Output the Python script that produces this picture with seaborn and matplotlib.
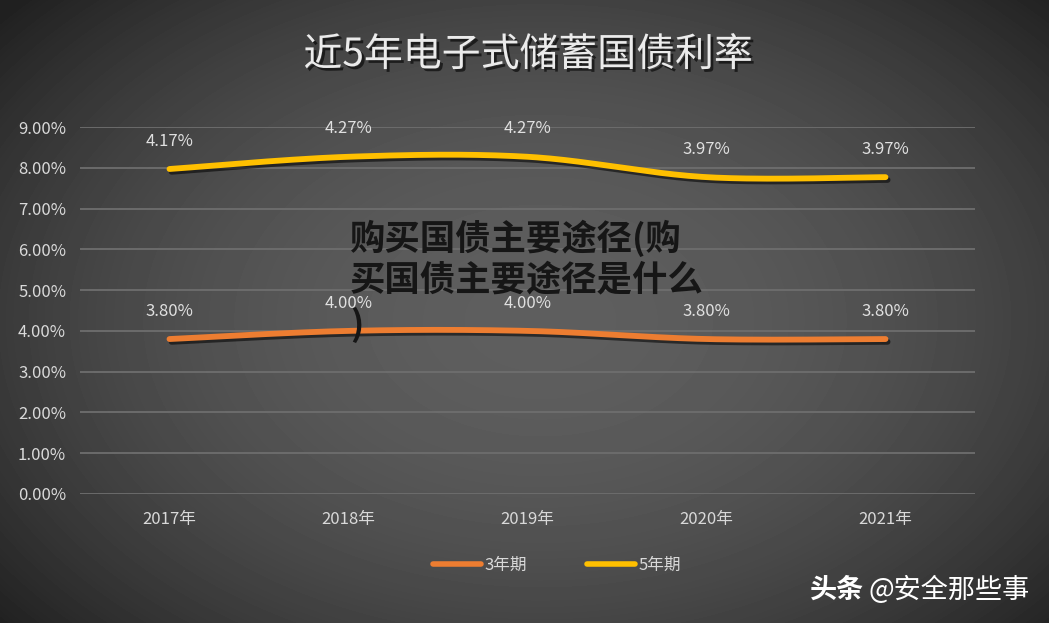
import numpy as np
import pandas as pd
import matplotlib
matplotlib.use("Agg")
import matplotlib.pyplot as plt
import matplotlib.patheffects as pe
from matplotlib.lines import Line2D
import seaborn as sns

# ---- data ----
years = ["2017年", "2018年", "2019年", "2020年", "2021年"]
rate_3y = [3.80, 4.00, 4.00, 3.80, 3.80]
rate_5y = [4.17, 4.27, 4.27, 3.97, 3.97]
series_names = ["3年期", "5年期"]
y_ticks = [0, 1, 2, 3, 4, 5, 6, 7, 8, 9]
title = "近5年电子式储蓄国债利率"
overlay_lines = ["购买国债主要途径(购", "买国债主要途径是什么", ")"]
colors = ["#ED7D31", "#FFC000"]

sns.set_theme(style="dark")
plt.rcParams["font.family"] = ["Noto Sans CJK SC", "DejaVu Sans"]


def smooth(xv, yv, n=40):
    """Catmull-Rom style smoothing (like Excel's smoothed line) for display."""
    p = np.column_stack([xv, yv]).astype(float)
    ext = np.vstack([p[0], p, p[-1]])
    out = []
    t = np.linspace(0, 1, n)
    for i in range(len(p) - 1):
        p0, p1, p2, p3 = ext[i], ext[i + 1], ext[i + 2], ext[i + 3]
        m1 = (p2 - p0) / 2
        m2 = (p3 - p1) / 2
        h00 = 2 * t**3 - 3 * t**2 + 1
        h10 = t**3 - 2 * t**2 + t
        h01 = -2 * t**3 + 3 * t**2
        h11 = t**3 - t**2
        seg = (np.outer(h00, p1) + np.outer(h10, m1) + np.outer(h01, p2) + np.outer(h11, m2))
        out.append(seg if i == 0 else seg[1:])
    s = np.vstack(out)
    return s[:, 0], s[:, 1]


W, H = 1049, 623
fig = plt.figure(figsize=(W / 100, H / 100), dpi=100)

# background radial gradient
bg = fig.add_axes([0, 0, 1, 1], zorder=0)
yy, xx = np.mgrid[0:H, 0:W]
r = np.sqrt(((xx - 540) / 640) ** 2 + ((yy - 320) / 430) ** 2)
val = np.clip(0.37 - 0.20 * r**2, 0.13, 1)
bg.imshow(val, cmap="gray", vmin=0, vmax=1, extent=[0, 1, 0, 1], aspect="auto", origin="upper")
bg.set_axis_off()

ax = fig.add_axes([80 / W, 1 - 494 / H, 895 / W, 367 / H], zorder=1)
ax.patch.set_alpha(0)

x = np.arange(len(years))
stacked = [np.array(rate_3y), np.array(rate_3y) + np.array(rate_5y)]
shown = [rate_3y, rate_5y]

for k in range(2):
    sx, sy = smooth(x, stacked[k])
    df = pd.DataFrame({"x": sx, "y": sy})
    sns.lineplot(data=df, x="x", y="y", ax=ax, color=colors[k], linewidth=4.2,
                 sort=False, estimator=None, legend=False)
    ln = ax.lines[-1]
    ln.set_solid_capstyle("round")
    ln.set_path_effects([pe.SimpleLineShadow(offset=(1.5, -2), shadow_color="black", alpha=0.55),
                         pe.Normal()])
    for i in range(len(years)):
        ax.annotate(f"{shown[k][i]:.2f}%", (x[i], stacked[k][i]), xytext=(0, 20),
                    textcoords="offset points", ha="center", va="center",
                    fontsize=12, color="#e0e0e0", zorder=5)

ax.set_xlim(-0.5, len(years) - 0.5)
ax.set_ylim(0, 9)
ax.set_yticks(y_ticks)
ax.set_yticklabels([f"{v:.2f}%" for v in y_ticks])
ax.set_xticks(x)
ax.set_xticklabels(years)
ax.tick_params(axis="y", length=0, pad=10, labelsize=12, labelcolor="#d9d9d9")
ax.tick_params(axis="x", length=0, pad=12, labelsize=12, labelcolor="#d9d9d9")
ax.set_xlabel("")
ax.set_ylabel("")
ax.yaxis.grid(True, color="#6e6e6e", linewidth=1.3)
ax.xaxis.grid(False)
ax.set_axisbelow(True)
for s in ax.spines.values():
    s.set_visible(False)

handles = [Line2D([0], [0], color=c, lw=4, solid_capstyle="round") for c in colors]
fig.legend(handles, series_names, loc="center", bbox_to_anchor=(557 / W, 1 - 565 / H),
           ncol=2, frameon=False, handlelength=2.9, columnspacing=3.6, handletextpad=0.2,
           fontsize=12, labelcolor="#d9d9d9")

fig.text(528 / W, 1 - 55 / H, title, ha="center", va="center", fontsize=28, color="#ebebeb",
         path_effects=[pe.withSimplePatchShadow(offset=(2, -2), shadow_rgbFace="black", alpha=0.6)])

ys = [238, 280, 325]
for line, yv in zip(overlay_lines, ys):
    fig.text(350 / W, 1 - yv / H, line, ha="left", va="center", fontsize=25.5,
             fontweight="bold", color="#161616", zorder=10)

fig.text(810 / W, 1 - 590 / H, "头条", ha="left", va="center", fontsize=19.5,
         fontweight="bold", color="white", zorder=10)
fig.text(868 / W, 1 - 590 / H, "@安全那些事", ha="left", va="center", fontsize=19.5,
         color="white", zorder=10)

fig.savefig("out.png", dpi=100)
